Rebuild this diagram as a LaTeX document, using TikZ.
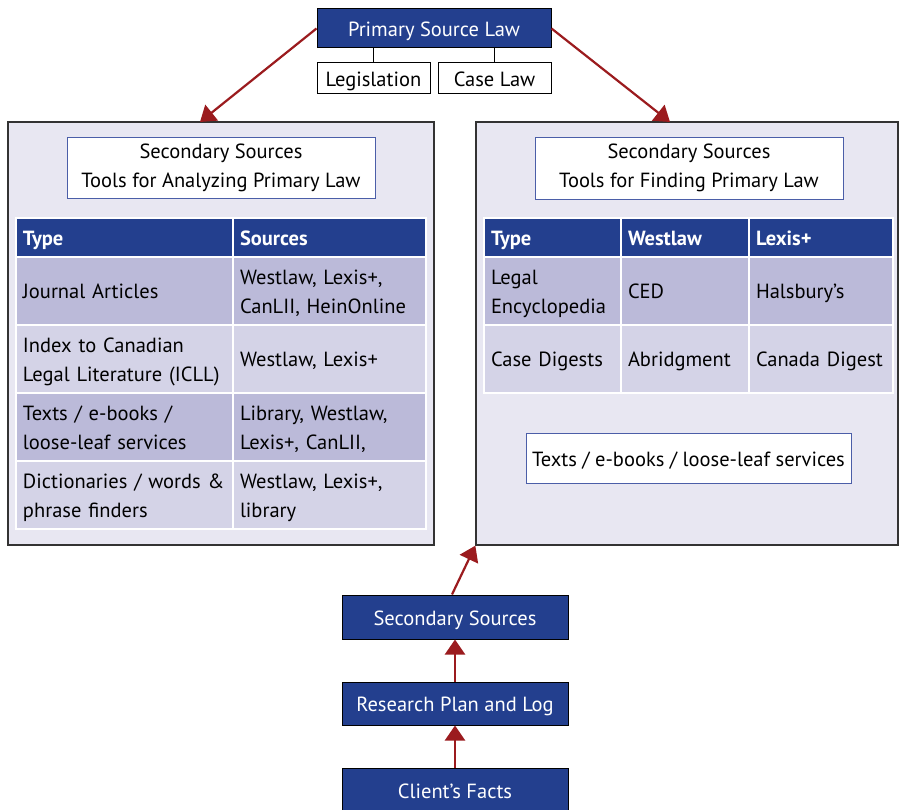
\documentclass[tikz,border=0pt]{standalone}
\usepackage{fontspec}
\setmainfont{PT Sans}
\usetikzlibrary{arrows.meta}
\definecolor{navy}{HTML}{233F8E}
\definecolor{arrowred}{HTML}{9B1B1E}
\definecolor{panel}{HTML}{E8E7F2}
\definecolor{rowdark}{HTML}{BBBAD9}
\definecolor{rowlight}{HTML}{D4D3E7}
\definecolor{titleblue}{HTML}{4B5EA8}
\definecolor{panelborder}{HTML}{333333}
\newcommand\fsz{\fontsize{20.5}{29}\selectfont}
\newcommand\mystrut{\vrule height 22.5pt depth 6.5pt width 0pt\relax}
\tikzset{
  navybox/.style={draw=black, line width=1pt, fill=navy, text=white, font=\fsz, inner sep=0pt, execute at begin node=\mystrut},
  subbox/.style={draw=black, line width=1pt, fill=white, font=\fsz, inner sep=0pt, execute at begin node=\mystrut},
  panelbox/.style={draw=panelborder, line width=1.3pt, fill=panel, inner sep=0pt},
  titlebox/.style={draw=titleblue, line width=1pt, fill=white, align=center, font=\fsz, inner sep=0pt, execute at begin node=\mystrut, execute at end node=\mystrut},
  cell/.style={draw=white, line width=1.5pt, inner ysep=0pt, inner xsep=7pt, align=left, font=\fsz, execute at begin node=\mystrut, execute at end node=\mystrut},
  headcell/.style={cell, fill=navy, text=white, font=\fsz\bfseries},
  arr/.style={draw=arrowred, line width=2.2pt, -{Triangle[width=20pt,length=15pt]}},
  link/.style={draw=black, line width=1pt}
}
\newcommand\tcell[7]{\node[#6, minimum width=#4pt, minimum height=#5pt, text width=#4pt-14pt] (#1) at (#2,#3) {#7};}
\begin{document}
\begin{tikzpicture}[x=1pt,y=-1pt]
\useasboundingbox (0,0) rectangle (906,810);
\fill[white] (0,0) rectangle (906,810);
% top
\node[navybox, minimum width=234pt, minimum height=39pt] (psl) at (434,28.5) {Primary Source Law};
\node[subbox, minimum width=113pt, minimum height=31pt] (leg) at (373.5,78.5) {Legislation};
\node[subbox, minimum width=113pt, minimum height=31pt] (cl) at (494.5,78.5) {Case Law};
\draw[link] (leg.north) -- (leg.north |- psl.south);
\draw[link] (cl.north) -- (cl.north |- psl.south);
% panels
\node[panelbox, minimum width=426pt, minimum height=423pt] (lpanel) at (221,333.5) {};
\node[panelbox, minimum width=422pt, minimum height=423pt] (rpanel) at (687,333.5) {};
\node[titlebox, minimum width=308pt, minimum height=61pt] (ltitle) at (221,168.5) {Secondary Sources\\Tools for Analyzing Primary Law};
\node[titlebox, minimum width=308pt, minimum height=62pt] (rtitle) at (689,169) {Secondary Sources\\Tools for Finding Primary Law};
% left table
\tcell{lh1}{124.5}{237.5}{217}{39}{headcell}{Type}
\tcell{lh2}{329.5}{237.5}{193}{39}{headcell}{Sources}
\tcell{la1}{124.5}{291}{217}{68}{cell,fill=rowdark}{Journal Articles}
\tcell{la2}{329.5}{291}{193}{68}{cell,fill=rowdark}{Westlaw, Lexis+,\\CanLII, HeinOnline}
\tcell{lb1}{124.5}{359}{217}{68}{cell,fill=rowlight}{Index to Canadian\\Legal Literature (ICLL)}
\tcell{lb2}{329.5}{359}{193}{68}{cell,fill=rowlight}{Westlaw, Lexis+}
\tcell{lc1}{124.5}{427}{217}{68}{cell,fill=rowdark}{Texts / e-books /\\loose-leaf services}
\tcell{lc2}{329.5}{427}{193}{68}{cell,fill=rowdark}{Library, Westlaw,\\Lexis+, CanLII,}
\tcell{ld1}{124.5}{495}{217}{68}{cell,fill=rowlight}{Dictionaries / words \&\\phrase finders}
\tcell{ld2}{329.5}{495}{193}{68}{cell,fill=rowlight}{Westlaw, Lexis+,\\library}
% right table
\tcell{rh1}{552.5}{237.5}{137}{39}{headcell}{Type}
\tcell{rh2}{685}{237.5}{128}{39}{headcell}{Westlaw}
\tcell{rh3}{821}{237.5}{144}{39}{headcell}{Lexis+}
\tcell{ra1}{552.5}{291}{137}{68}{cell,fill=rowdark}{Legal\\Encyclopedia}
\tcell{ra2}{685}{291}{128}{68}{cell,fill=rowdark}{CED}
\tcell{ra3}{821}{291}{144}{68}{cell,fill=rowdark}{Halsbury’s}
\tcell{rb1}{552.5}{359}{137}{68}{cell,fill=rowlight}{Case Digests}
\tcell{rb2}{685}{359}{128}{68}{cell,fill=rowlight}{Abridgment}
\tcell{rb3}{821}{359}{144}{68}{cell,fill=rowlight}{Canada Digest}
\node[titlebox, minimum width=325pt, minimum height=50pt] (texts) at (688.5,459) {Texts / e-books / loose-leaf services};
% bottom chain
\node[navybox, minimum width=226pt, minimum height=44pt] (ss) at (455,617) {Secondary Sources};
\node[navybox, minimum width=226pt, minimum height=43pt] (rp) at (455,703.5) {Research Plan and Log};
\node[navybox, minimum width=226pt, minimum height=44pt] (cf) at (455,790) {Client’s Facts};
% arrows
\coordinate (lt) at (200,122);
\coordinate (rt) at (670,122);
\draw[arr] (psl.west) -- (lt);
\draw[arr] (psl.east) -- (rt);
\draw[arr] ([xshift=-3pt]ss.north) -- (rpanel.south west);
\draw[arr] (rp.north) -- (ss.south);
\draw[arr] (cf.north) -- (rp.south);
\end{tikzpicture}
\end{document}
